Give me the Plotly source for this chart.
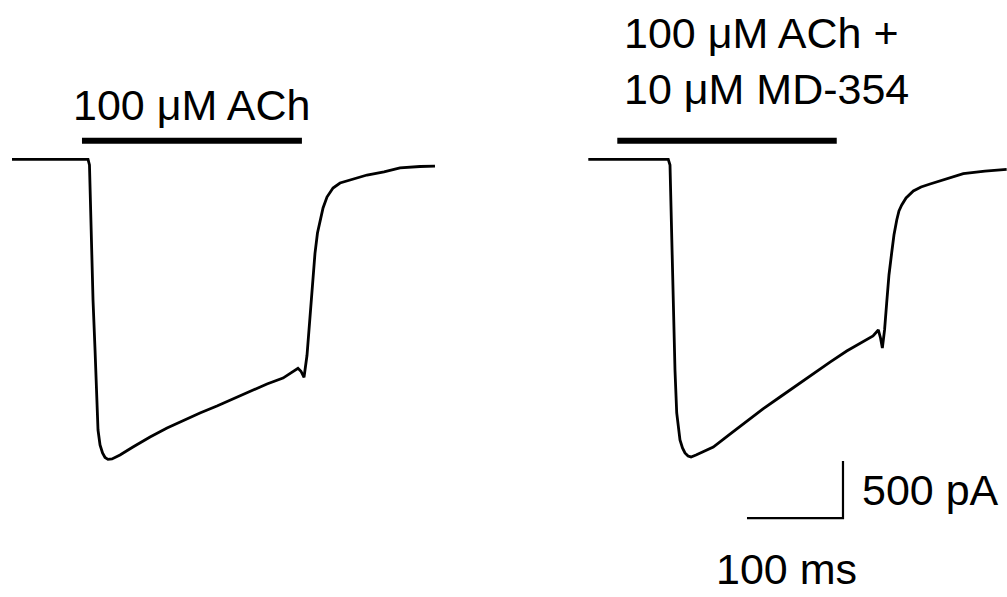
import plotly.graph_objects as go

# ---- data (time in ms from trace start, current in pA) ----
ach_t = [0, 79.2, 80.7, 82.3, 84.4, 86.5, 88, 89.6, 91.7, 94.3, 96.9, 100, 104.2, 112.5, 126, 143.8, 161.5, 179.2,
         195.8, 213.5, 230.2, 247.9, 265.6, 282.3, 292.7, 297.9, 301, 304.2, 307.3, 310.4, 313, 315.6, 318.2,
         320.8, 324, 328.1, 334.4, 341.7, 352.1, 369.8, 387.5, 404.2, 425, 440.6]
ach_i = [0, 0, -50, -620, -1234, -1673, -2112, -2375, -2506, -2576, -2616, -2632, -2629, -2594, -2524, -2436, -2357, -2287,
         -2225, -2164, -2103, -2032, -1971, -1919, -1866, -1833, -1859, -1912, -1719, -1412, -1103, -825, -647,
         -533, -427, -331, -252, -208, -182, -138, -111, -76, -63, -59]

md_t = [0, 83.3, 85.1, 86.7, 88.5, 90.3, 92.1, 94, 95.5, 98.1, 100.7, 103.9, 107, 112.2, 121.6, 130.2, 147.6, 165,
        182, 199.7, 217.4, 234.4, 251.8, 269.2, 286.5, 296.6, 302.1, 304.4, 306.3, 308.6, 310.8, 313.2, 316,
        318.4, 321.3, 323.6, 326.5, 331, 338.6, 346.6, 356, 373.3, 390.6, 413.2, 435.8]
md_i = [0, 0, -50, -620, -1412, -1851, -2225, -2375, -2462, -2532, -2576, -2603, -2611, -2594, -2559, -2524, -2410, -2296,
        -2190, -2085, -1980, -1884, -1779, -1682, -1603, -1550, -1497, -1567, -1655, -1497, -1261, -1015, -822,
        -664, -532, -453, -401, -339, -278, -243, -217, -168, -125, -103, -88]

# application bars (ms), level in pA
bar1 = [72.9, 302.0]
bar2 = [30.2, 258.8]
bar_level = 163

label1 = "100 μM ACh"
label2 = "100 μM ACh +<br>10 μM MD-354"

# scale bar: 100 ms x 500 pA
sb_t0, sb_len_t = 165.3, 100
sb_i0, sb_len_i = -3147, 500

FONT = "Liberation Sans, Arial, sans-serif"
FS = 43

fig = go.Figure()
line = dict(color="black", width=2.8)
fig.add_trace(go.Scatter(x=ach_t, y=ach_i, mode="lines", line=line, xaxis="x", yaxis="y", hoverinfo="skip"))
fig.add_trace(go.Scatter(x=md_t, y=md_i, mode="lines", line=line, xaxis="x2", yaxis="y", hoverinfo="skip"))
# application bars
fig.add_trace(go.Scatter(x=bar1, y=[bar_level, bar_level], mode="lines", line=dict(color="black", width=6),
                         xaxis="x", yaxis="y", hoverinfo="skip"))
fig.add_trace(go.Scatter(x=bar2, y=[bar_level, bar_level], mode="lines", line=dict(color="black", width=6),
                         xaxis="x2", yaxis="y", hoverinfo="skip"))
# scale bar
fig.add_trace(go.Scatter(x=[sb_t0, sb_t0 + sb_len_t, sb_t0 + sb_len_t],
                         y=[sb_i0, sb_i0, sb_i0 + sb_len_i], mode="lines",
                         line=dict(color="black", width=2.2), xaxis="x2", yaxis="y", hoverinfo="skip"))

k = 100 / 96.0
fig.update_layout(
    width=1007, height=597,
    margin=dict(l=0, r=0, t=0, b=0),
    paper_bgcolor="white", plot_bgcolor="white",
    showlegend=False,
    xaxis=dict(domain=[0, 1], range=[-12 * k, 995 * k], visible=False),
    xaxis2=dict(domain=[0, 1], range=[-588.3 * k, 418.7 * k], visible=False, overlaying="x"),
    yaxis=dict(range=[-3839.5, 1397.4], visible=False),
    font=dict(family=FONT, size=FS, color="black"),
)

fig.add_annotation(x=sum(bar1) / 2, y=480, xref="x", yref="y", text=label1, showarrow=False,
                   xanchor="center", yanchor="middle", font=dict(family=FONT, size=FS))
fig.add_annotation(x=35.1, y=860, xref="x2", yref="y", text=label2, showarrow=False, align="left",
                   xanchor="left", yanchor="middle", font=dict(family=FONT, size=FS))
fig.add_annotation(x=283, y=-2900, xref="x2", yref="y", text="500 pA", showarrow=False,
                   xanchor="left", yanchor="middle", font=dict(family=FONT, size=FS))
fig.add_annotation(x=206, y=-3590, xref="x2", yref="y", text="100 ms", showarrow=False,
                   xanchor="center", yanchor="middle", font=dict(family=FONT, size=FS))

fig.write_html("out.html", config={"displayModeBar": False},
               post_script="document.body.style.margin='0';")
